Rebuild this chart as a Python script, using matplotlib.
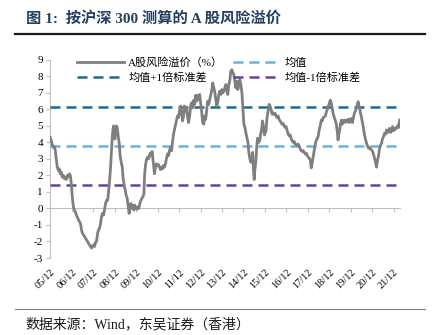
import matplotlib
matplotlib.use("Agg")
import matplotlib.pyplot as plt
from matplotlib.lines import Line2D

# ---------------- data ----------------
years = [
    2005.91, 2005.96, 2006.00, 2006.05, 2006.10, 2006.15, 2006.19, 2006.24, 2006.29, 2006.33,
    2006.38, 2006.43, 2006.47, 2006.52, 2006.57, 2006.61, 2006.66, 2006.71, 2006.76, 2006.80,
    2006.85, 2006.90, 2006.94, 2006.99, 2007.04, 2007.08, 2007.13, 2007.20, 2007.27, 2007.32,
    2007.37, 2007.41, 2007.46, 2007.51, 2007.55, 2007.60, 2007.65, 2007.69, 2007.74, 2007.79,
    2007.84, 2007.88, 2007.93, 2007.98, 2008.02, 2008.07, 2008.12, 2008.16, 2008.21, 2008.26,
    2008.30, 2008.35, 2008.40, 2008.45, 2008.49, 2008.54, 2008.59, 2008.63, 2008.68, 2008.73,
    2008.77, 2008.82, 2008.86, 2008.89, 2008.93, 2008.96, 2009.00, 2009.03, 2009.08, 2009.13,
    2009.17, 2009.22, 2009.27, 2009.31, 2009.36, 2009.41, 2009.45, 2009.50, 2009.55, 2009.59,
    2009.62, 2009.67, 2009.71, 2009.76, 2009.81, 2009.85, 2009.90, 2009.95, 2009.99, 2010.04,
    2010.09, 2010.14, 2010.18, 2010.23, 2010.28, 2010.31, 2010.35, 2010.39, 2010.44, 2010.49,
    2010.53, 2010.58, 2010.63, 2010.66, 2010.70, 2010.74, 2010.77, 2010.82, 2010.86, 2010.91,
    2010.96, 2011.00, 2011.05, 2011.10, 2011.15, 2011.19, 2011.24, 2011.29, 2011.33, 2011.38,
    2011.43, 2011.47, 2011.52, 2011.57, 2011.61, 2011.66, 2011.71, 2011.76, 2011.80, 2011.85,
    2011.89, 2011.94, 2011.99, 2012.03, 2012.08, 2012.13, 2012.17, 2012.22, 2012.27, 2012.32,
    2012.36, 2012.41, 2012.46, 2012.50, 2012.55, 2012.60, 2012.64, 2012.69, 2012.74, 2012.79,
    2012.83, 2012.88, 2012.93, 2012.97, 2013.02, 2013.07, 2013.12, 2013.16, 2013.21, 2013.26,
    2013.30, 2013.35, 2013.40, 2013.45, 2013.49, 2013.54, 2013.59, 2013.63, 2013.68, 2013.73,
    2013.77, 2013.82, 2013.87, 2013.91, 2013.96, 2014.01, 2014.05, 2014.10, 2014.15, 2014.19,
    2014.24, 2014.29, 2014.33, 2014.38, 2014.43, 2014.47, 2014.52, 2014.57, 2014.61, 2014.66,
    2014.71, 2014.75, 2014.80, 2014.85, 2014.89, 2014.94, 2014.99, 2015.03, 2015.08, 2015.13,
    2015.17, 2015.22, 2015.27, 2015.31, 2015.35, 2015.38, 2015.42, 2015.45, 2015.50, 2015.55,
    2015.58, 2015.62, 2015.68, 2015.72, 2015.77, 2015.81, 2015.86, 2015.90, 2015.94, 2015.97,
    2016.02, 2016.07, 2016.12, 2016.16, 2016.21, 2016.26, 2016.30, 2016.35, 2016.40, 2016.44,
    2016.49, 2016.54, 2016.58, 2016.63, 2016.68, 2016.72, 2016.77, 2016.82, 2016.87, 2016.91,
    2016.96, 2017.01, 2017.05, 2017.10, 2017.15, 2017.19, 2017.24, 2017.29, 2017.33, 2017.38,
    2017.43, 2017.47, 2017.52, 2017.57, 2017.61, 2017.66, 2017.71, 2017.75, 2017.80, 2017.85,
    2017.90, 2017.94, 2017.99, 2018.04, 2018.08, 2018.13, 2018.18, 2018.22, 2018.27, 2018.32,
    2018.36, 2018.41, 2018.46, 2018.50, 2018.55, 2018.60, 2018.64, 2018.69, 2018.74, 2018.78,
    2018.83, 2018.88, 2018.93, 2018.97, 2019.02, 2019.07, 2019.11, 2019.16, 2019.21, 2019.25,
    2019.30, 2019.33, 2019.37, 2019.41, 2019.44, 2019.49, 2019.53, 2019.58, 2019.63, 2019.67,
    2019.72, 2019.77, 2019.81, 2019.86, 2019.91, 2019.95, 2020.00, 2020.05, 2020.09, 2020.14,
    2020.19, 2020.23, 2020.27, 2020.30, 2020.34, 2020.37, 2020.42, 2020.47, 2020.51, 2020.56,
    2020.61, 2020.66, 2020.70, 2020.75, 2020.80, 2020.84, 2020.89, 2020.94, 2020.98, 2021.03,
    2021.08, 2021.12, 2021.17, 2021.22, 2021.26, 2021.31, 2021.36, 2021.40, 2021.45, 2021.50,
    2021.55, 2021.59, 2021.64, 2021.69, 2021.73, 2021.78, 2021.83, 2021.87, 2021.92, 2021.97,
    2022.01, 2022.06, 2022.11, 2022.15, 2022.20,
]
premium = [
    4.3, 4.1, 3.9, 3.7, 3.75, 3.5, 3.0, 2.5, 2.3, 2.4,
    2.1, 2.2, 1.9, 2.0, 1.8, 1.9, 1.75, 2.0, 1.9, 2.1,
    2.0, 1.4, 0.7, 0.1, -0.1, -0.2, -0.4, -0.6, -0.8, -0.9,
    -1.3, -1.5, -1.6, -1.7, -1.8, -1.9, -2.0, -2.1, -2.2, -2.3,
    -2.4, -2.3, -2.2, -2.3, -2.05, -2.0, -1.5, -1.3, -1.2, -0.9,
    -0.5, -0.3, -0.4, 0.0, 0.3, 0.5, 0.5, 1.0, 1.7, 2.6,
    3.6, 4.6, 5.0, 4.4, 4.2, 4.6, 5.0, 4.9, 4.4, 3.9,
    3.2, 2.8, 2.5, 1.8, 1.4, 1.1, 0.8, 0.6, 0.1, -0.3,
    0.1, 0.3, 0.0, 0.2, -0.1, 0.2, 0.0, -0.05, 0.1, 0.0,
    0.3, 0.5, 0.6, 0.7, 0.9, 2.0, 2.6, 2.9, 3.1, 3.0,
    3.2, 3.35, 3.2, 3.45, 3.0, 2.5, 2.1, 2.5, 2.7, 2.6,
    2.65, 2.5, 2.35, 2.5, 2.4, 2.6, 2.5, 2.75, 3.0, 3.3,
    3.2, 3.5, 3.7, 3.5, 4.0, 4.5, 4.8, 5.1, 5.35, 5.6,
    5.5, 5.9, 6.2, 5.8, 5.3, 5.6, 6.2, 5.9, 6.1, 5.5,
    5.2, 5.6, 6.2, 6.4, 6.1, 6.55, 6.3, 6.85, 6.5, 6.85,
    6.6, 6.9, 6.3, 5.9, 5.2, 5.1, 5.6, 5.4, 6.0, 6.5,
    6.3, 6.6, 6.9, 7.2, 7.6, 7.3, 7.0, 6.6, 6.2, 6.5,
    6.9, 7.1, 6.9, 7.2, 7.0, 7.1, 7.3, 7.5, 7.1, 6.9,
    7.5, 7.8, 8.3, 8.4, 8.2, 8.1, 7.7, 7.3, 7.7, 7.2,
    7.6, 7.8, 7.5, 7.0, 6.2, 5.1, 4.9, 4.6, 4.3, 4.0,
    3.4, 3.0, 2.8, 3.0, 3.4, 2.5, 1.75, 2.3, 2.9, 3.9,
    4.25, 4.0, 4.1, 4.5, 4.8, 5.3, 4.9, 4.45, 4.6, 4.7,
    5.5, 5.9, 6.3, 6.2, 6.0, 5.7, 5.8, 5.7, 5.75, 5.6,
    5.5, 5.6, 5.4, 5.3, 5.2, 5.1, 5.15, 5.0, 4.9, 4.95,
    4.7, 4.5, 4.4, 4.45, 4.2, 4.1, 4.0, 4.05, 3.9, 3.85,
    3.8, 3.9, 3.75, 3.6, 3.5, 3.45, 3.5, 3.4, 3.3, 3.35,
    3.2, 3.1, 3.05, 2.9, 2.45, 2.8, 3.2, 3.5, 3.9, 4.15,
    4.2, 4.4, 4.8, 5.0, 5.35, 5.3, 5.5, 5.55, 5.6, 5.8,
    6.0, 6.2, 6.4, 6.55, 6.35, 6.0, 5.7, 5.5, 5.3, 5.1,
    4.6, 4.15, 4.5, 4.75, 5.1, 5.35, 5.1, 5.3, 5.35, 5.2,
    5.35, 5.25, 5.4, 5.2, 5.4, 5.45, 5.2, 5.5, 5.75, 5.9,
    6.06, 6.3, 6.46, 6.2, 6.16, 5.8, 5.55, 5.2, 4.9, 4.5,
    4.2, 3.95, 3.8, 3.65, 3.7, 3.6, 3.55, 3.45, 3.3, 3.05,
    2.8, 2.5, 2.9, 3.2, 3.6, 3.8, 3.95, 4.2, 4.35, 4.55,
    4.5, 4.75, 4.6, 4.7, 4.85, 4.6, 4.75, 4.95, 4.7, 4.85,
    4.8, 4.9, 5.0, 4.9, 5.35,
]
mean_value = 3.77
plus_1sd = 6.14
minus_1sd = 1.40

tick_years = [2005.92 + i for i in range(17)]
tick_labels = ["05/12", "06/12", "07/12", "08/12", "09/12", "10/12", "11/12", "12/12",
               "13/12", "14/12", "15/12", "16/12", "17/12", "18/12", "19/12", "20/12", "21/12"]
y_ticks = list(range(-3, 10))

series_labels = ["A股风险溢价（%）", "均值", "均值+1倍标准差", "均值-1倍标准差"]
title_text = "图 1:  按沪深 300 测算的 A 股风险溢价"
source_text = "数据来源：Wind，东吴证券（香港）"

# ---------------- style ----------------
FAM = ["Liberation Serif", "Noto Sans CJK SC"]
plt.rcParams["font.family"] = FAM
plt.rcParams["axes.unicode_minus"] = False
GRAY = "#7f7f7f"
DARK = "#1d6a8e"
LIGHT = "#6bb3d6"
PURPLE = "#6a3f9b"
AXC = "#bfbfbf"

fig = plt.figure(figsize=(4.32, 3.35), dpi=100)
ax = fig.add_axes([50 / 432, 1 - 258 / 335, 350 / 432, (258 - 59.8) / 335])

x0, x1 = years[0], years[-1]
dash = (4, 2.4)
ax.plot(years, premium, color=GRAY, lw=2.0, zorder=5, solid_joinstyle="round")
ax.plot([x0, x1], [mean_value, mean_value], color=LIGHT, lw=1.8, dashes=dash, zorder=3)
ax.plot([x0, x1], [plus_1sd, plus_1sd], color=DARK, lw=1.8, dashes=dash, zorder=3)
ax.plot([x0, x1], [minus_1sd, minus_1sd], color=PURPLE, lw=1.8, dashes=dash, zorder=3)

ax.set_xlim(2005.90, 2022.22)
ax.set_ylim(-3, 9)
ax.set_yticks(y_ticks)
ax.tick_params(axis="y", labelsize=8, length=3, width=0.8, color=AXC, pad=2, direction="out")
ax.set_xticks(tick_years)
ax.set_xticklabels(tick_labels, rotation=45, ha="right", rotation_mode="anchor", fontsize=7.5)
ax.tick_params(axis="x", length=0, pad=7)
for s in ["top", "right", "bottom"]:
    ax.spines[s].set_visible(False)
ax.spines["left"].set_color(AXC)
ax.spines["left"].set_linewidth(0.8)

# zero axis with tick marks
sec = ax.secondary_xaxis(0.25)
sec.set_xticks(tick_years)
sec.tick_params(axis="x", length=3, width=0.8, color=AXC, labelbottom=False, direction="out")
sec.spines["bottom"].set_color(AXC)
sec.spines["bottom"].set_linewidth(0.8)

h_main = Line2D([], [], color=GRAY, lw=2.0)
h_mean = Line2D([], [], color=LIGHT, lw=1.8, dashes=dash)
h_plus = Line2D([], [], color=DARK, lw=1.8, dashes=dash)
h_minus = Line2D([], [], color=PURPLE, lw=1.8, dashes=dash)
# column-major fill: col1 = main, +1sd ; col2 = mean, -1sd
leg = ax.legend([h_main, h_plus, h_mean, h_minus],
                [series_labels[0], series_labels[2], series_labels[1], series_labels[3]],
                ncol=2, loc="upper left",
                bbox_to_anchor=(0.065, 1.035), frameon=False, fontsize=8,
                handlelength=4.2, handletextpad=0.4, columnspacing=0.9,
                labelspacing=0.45, borderaxespad=0)

# title & source
fig.text(26 / 432, 1 - 18 / 335, title_text, fontsize=11, fontweight="bold",
         color="#243f60", va="center", ha="left", family=FAM)
fig.add_artist(Line2D([15 / 432, 425 / 432], [1 - 33.5 / 335, 1 - 33.5 / 335],
                      color="#1a1a1a", lw=1.6))
fig.add_artist(Line2D([15 / 432, 425 / 432], [1 - 309 / 335, 1 - 309 / 335],
                      color="#7f7f7f", lw=0.8))
fig.text(25 / 432, 1 - 324 / 335, source_text, fontsize=10, color="#1a1a1a",
         va="center", ha="left", family=FAM)

fig.savefig("out.png", dpi=100)
